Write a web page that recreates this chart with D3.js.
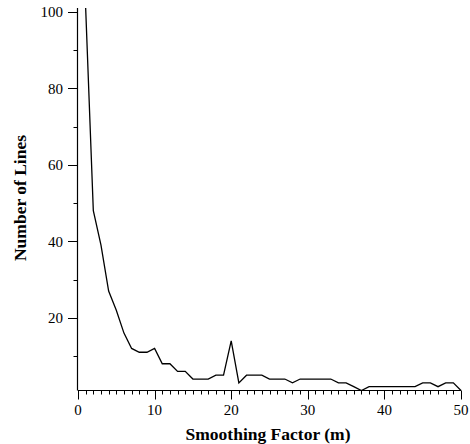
<!DOCTYPE html>
<html><head><meta charset="utf-8">
<script src="https://cdn.jsdelivr.net/npm/d3@7"></script>
<style>body{margin:0;background:#fff}svg{display:block}</style>
</head><body>
<svg id="c" width="470" height="444"></svg>
<script>
const smoothing = d3.range(1, 51);
const numLines = [101,48,39,27,22,16,12,11,11,12,8,8,6,6,4,4,4,5,5,14,3,5,5,5,4,4,4,3,4,4,4,4,4,3,3,2,1,2,2,2,2,2,2,2,3,3,2,3,3,1];
const xTicks = [0,10,20,30,40,50];
const yTicks = [20,40,60,80,100];

const svg = d3.select("#c");
const x = d3.scaleLinear().domain([0,50]).range([78,461]);
const y = d3.scaleLinear().domain([1,101]).range([390.5,8]);
const font = "Liberation Serif, Times New Roman, serif";

// x axis
const xa = svg.append("g").attr("transform","translate(0,390.5)");
xa.append("line").attr("x1",x(0)).attr("x2",x(50)).attr("stroke","#000").attr("stroke-width",1.2);
xa.selectAll(".mt").data(d3.range(0,51)).join("line")
  .attr("x1",d=>Math.round(x(d))+0.5).attr("x2",d=>Math.round(x(d))+0.5)
  .attr("y1",0).attr("y2",d=>d%10===0?9:4).attr("stroke","#000").attr("stroke-width",1);
xa.selectAll("text").data(xTicks).join("text")
  .attr("x",d=>x(d)).attr("y",24).attr("text-anchor","middle")
  .style("font-family",font).attr("font-size",15).text(d=>d);

// y axis
const ya = svg.append("g");
ya.append("line").attr("x1",77.5).attr("x2",77.5).attr("y1",y(1)).attr("y2",y(101)).attr("stroke","#000").attr("stroke-width",1.2);
ya.selectAll(".yt").data([10,20,30,40,50,60,70,80,90,100]).join("line")
  .attr("x1",d=>d%20===0?68:73.5).attr("x2",77.5)
  .attr("y1",d=>Math.round(y(d))+0.5).attr("y2",d=>Math.round(y(d))+0.5)
  .attr("stroke","#000").attr("stroke-width",1);
ya.selectAll("text").data(yTicks).join("text")
  .attr("x",63).attr("y",d=>y(d)).attr("dy","0.35em").attr("text-anchor","end")
  .style("font-family",font).attr("font-size",15).text(d=>d);

// line
svg.append("path").datum(smoothing.map((m,i)=>[m,numLines[i]]))
  .attr("fill","none").attr("stroke","#000").attr("stroke-width",1.3)
  .attr("d", d3.line().x(d=>x(d[0])).y(d=>y(d[1])));

// titles
svg.append("text").attr("x",268).attr("y",440).attr("text-anchor","middle")
  .style("font-family",font).attr("font-weight","bold").attr("font-size",17.5)
  .text("Smoothing Factor (m)");
svg.append("text").attr("transform","translate(26,198) rotate(-90)").attr("text-anchor","middle")
  .style("font-family",font).attr("font-weight","bold").attr("font-size",17.5)
  .text("Number of Lines");
</script>
</body></html>
